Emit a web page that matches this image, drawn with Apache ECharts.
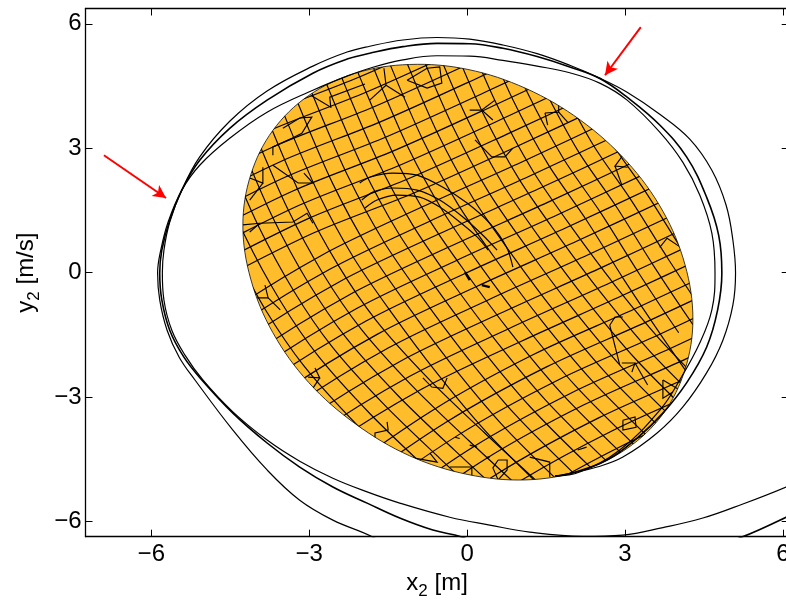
<!DOCTYPE html>
<html><head><meta charset="utf-8">
<style>html,body{margin:0;padding:0;background:#fff;overflow:hidden}#c{width:786px;height:601px}</style>
<script src="https://cdn.jsdelivr.net/npm/echarts@6/dist/echarts.min.js"></script>
</head><body><div id="c"></div>
<script>
const xTicks=[-6,-3,0,3,6];
const yTicks=[-6,-3,0,3,6];
const xLimits=[-7.25,6.11];
const yLimits=[-6.37,6.37];
const xName='{a|x}{s|2}{a| [m]}';
const yName='{a|y}{s|2}{a| [m/s]}';

const blob=[[4.29,-1.12],[4.14,-2.34],[3.72,-3.41],[3.04,-4.24],[2.15,-4.78],[1.12,-5.0],[.015,-4.87],[-1.09,-4.42],[-2.12,-3.65],[-3.01,-2.65],[-3.69,-1.45],[-4.11,-.16],[-4.26,1.14],[-4.11,2.36],[-3.69,3.43],[-3.01,4.27],[-2.12,4.81],[-1.09,5.02],[.015,4.90],[1.12,4.44],[2.15,3.68],[3.04,2.67],[3.72,1.48],[4.14,.19]];

const orbitA=[[7.08,-4.59],[6.06,-5.17],[5.24,-5.58],[4.48,-5.92],[3.72,-6.15],[2.96,-6.33],[2.20,-6.36],[1.19,-6.26],[.43,-6.09],[-.33,-5.90],[-1.28,-5.56],[-1.90,-5.29],[-2.55,-4.96],[-3.18,-4.55],[-3.80,-4.04],[-4.45,-3.36],[-5.02,-2.59],[-5.36,-1.99],[-5.61,-1.39],[-5.76,-.66],[-5.79,-.01],[-5.76,.54],[-5.65,1.22],[-5.42,1.99],[-5.08,2.79],[-4.51,3.65],[-3.80,4.38],[-2.93,4.98],[-2.28,5.32],[-1.85,5.46],[-1.22,5.61],[-.57,5.67],[.05,5.63],[.68,5.49],[1.33,5.28],[1.95,5.00],[2.52,4.69],[3.04,4.35],[3.66,3.82],[4.23,3.22],[4.65,2.47],[4.92,1.63],[5.05,.78],[5.10,-.01],[5.05,-.78],[4.86,-1.63],[4.55,-2.42],[4.10,-3.24],[3.61,-3.87],[2.96,-4.45],[2.47,-4.69],[2.01,-4.83],[1.67,-4.91]];
const orbitB=[[7.08,-5.25],[6.06,-5.90],[5.22,-6.38],[2.52,-7.66],[-.10,-6.38],[-.65,-6.21],[-1.28,-5.92],[-1.90,-5.56],[-2.55,-5.17],[-3.18,-4.69],[-3.80,-4.11],[-4.45,-3.39],[-5.04,-2.59],[-5.38,-2.04],[-5.65,-1.39],[-5.80,-.66],[-5.84,-.01],[-5.80,.54],[-5.66,1.22],[-5.42,1.99],[-5.08,2.71],[-4.51,3.48],[-3.80,4.16],[-2.93,4.81],[-2.28,5.15],[-1.85,5.29],[-1.22,5.45],[-.57,5.53],[.05,5.52],[.68,5.41],[1.33,5.21],[1.95,4.96],[2.52,4.68],[3.04,4.23],[3.66,3.56],[4.17,2.79],[4.55,1.82],[4.78,.90],[4.84,-.01],[4.76,-.90],[4.55,-1.80],[4.17,-2.66],[3.72,-3.39],[3.23,-3.99],[2.66,-4.52],[2.01,-4.83],[1.67,-4.91]];
const orbitC=[[-1.0,-7.0],[-1.79,-6.38],[-2.55,-5.97],[-3.18,-5.49],[-3.80,-4.76],[-4.45,-3.80],[-5.17,-2.59],[-5.47,-2.04],[-5.70,-1.39],[-5.84,-.66],[-5.88,-.01],[-5.82,.54],[-5.68,1.22],[-5.42,1.99],[-5.08,2.59],[-4.51,3.24],[-3.80,3.87],[-2.93,4.40],[-2.28,4.74],[-1.85,4.93],[-1.22,5.13],[-.57,5.23],[.05,5.22],[.68,5.12],[1.33,4.98],[1.95,4.82],[2.52,4.57],[3.04,4.16],[3.66,3.39],[4.10,2.66],[4.42,1.87],[4.65,.95],[4.71,-.01],[4.65,-.90],[4.42,-1.70],[4.04,-2.59],[3.66,-3.32],[2.90,-4.28],[2.14,-4.81],[1.67,-4.91]];

const meshSteep=[
[[-4.49,.64],[-3.82,-.92],[-3.10,-2.25],[-2.11,-3.65],[-1.05,-4.95]],
[[-4.84,2.69],[-4.22,.88],[-3.55,-.68],[-2.83,-2.01],[-1.84,-3.41],[-.78,-4.71]],
[[-4.58,2.92],[-3.96,1.11],[-3.29,-.45],[-2.57,-1.78],[-1.58,-3.18],[-.52,-4.48],[.57,-5.76]],
[[-4.31,3.13],[-3.69,1.32],[-3.02,-.24],[-2.30,-1.57],[-1.31,-2.97],[-.25,-4.27],[.84,-5.55]],
[[-4.03,3.35],[-3.41,1.54],[-2.74,-.02],[-2.02,-1.35],[-1.03,-2.75],[.03,-4.05],[1.12,-5.33]],
[[-3.74,3.55],[-3.12,1.74],[-2.45,.18],[-1.73,-1.15],[-.74,-2.55],[.32,-3.85],[1.41,-5.13]],
[[-3.75,4.72],[-3.46,3.76],[-2.84,1.95],[-2.17,.39],[-1.45,-.94],[-.595,-2.39],[.355,-3.83],[1.495,-5.28]],
[[-3.46,4.91],[-3.17,3.95],[-2.55,2.14],[-1.88,.58],[-1.16,-.75],[-.305,-2.20],[.645,-3.64],[1.785,-5.09]],
[[-3.18,5.11],[-2.89,4.15],[-2.27,2.34],[-1.60,.78],[-.88,-.55],[-.025,-2.0],[.925,-3.44],[2.065,-4.89]],
[[-2.89,5.29],[-2.60,4.33],[-1.98,2.52],[-1.31,.96],[-.59,-.37],[.265,-1.82],[1.215,-3.26],[2.355,-4.71]],
[[-2.61,5.47],[-2.32,4.51],[-1.70,2.70],[-1.03,1.14],[-.31,-.19],[.545,-1.64],[1.495,-3.08],[2.635,-4.53]],
[[-2.32,5.65],[-2.03,4.69],[-1.41,2.88],[-.74,1.32],[-.02,-.01],[.835,-1.46],[1.785,-2.90],[2.925,-4.35]],
[[-2.04,5.81],[-1.75,4.85],[-1.13,3.04],[-.46,1.48],[.26,.15],[1.115,-1.30],[2.065,-2.74],[3.205,-4.19]],
[[-1.46,5.01],[-.84,3.20],[-.17,1.64],[.55,.31],[1.405,-1.14],[2.355,-2.58],[3.495,-4.03]],
[[-1.18,5.17],[-.56,3.36],[.11,1.80],[.83,.47],[1.685,-.98],[2.635,-2.42],[3.775,-3.87]],
[[-.89,5.33],[-.27,3.52],[.40,1.96],[1.12,.63],[1.975,-.82],[2.925,-2.26],[4.065,-3.71]],
[[-.61,5.50],[.01,3.69],[.68,2.13],[1.40,.80],[2.255,-.65],[3.205,-2.09],[4.345,-3.54]],
[[-.32,5.66],[.30,3.85],[.97,2.29],[1.69,.96],[2.545,-.49],[3.495,-1.93],[4.635,-3.38]],
[[-.04,5.82],[.58,4.01],[1.25,2.45],[1.97,1.12],[2.825,-.33],[3.775,-1.77],[4.915,-3.22]],
[[.25,5.98],[.87,4.17],[1.54,2.61],[2.26,1.28],[2.98,-.17],[3.74,-1.61],[4.54,-3.06]],
[[.53,6.14],[1.15,4.33],[1.82,2.77],[2.54,1.44],[3.26,-.01],[4.02,-1.45]],
[[1.44,4.49],[2.11,2.93],[2.83,1.60],[3.55,.15],[4.31,-1.29]],
[[1.72,4.65],[2.39,3.09],[3.11,1.76],[3.83,.31],[4.59,-1.13]],
[[2.01,4.82],[2.68,3.26],[3.40,1.93],[4.12,.48],[4.88,-.96]]
];
const meshGentle=[
[[-5.86,2.54],[-3.96,3.75],[-2.06,4.71],[-.16,5.80]],
[[-5.72,2.18],[-3.82,3.39],[-1.92,4.35],[-.02,5.44],[1.88,6.57]],
[[-5.59,1.82],[-3.69,3.03],[-1.79,3.99],[.11,5.08],[2.01,6.21]],
[[-5.46,1.46],[-3.56,2.67],[-1.66,3.63],[.24,4.72],[2.14,5.85]],
[[-5.34,1.10],[-3.44,2.31],[-1.54,3.27],[.36,4.36],[2.26,5.49]],
[[-5.21,.76],[-3.31,1.97],[-1.41,2.93],[.49,4.02],[2.39,5.15]],
[[-5.08,.42],[-3.18,1.63],[-1.28,2.59],[.62,3.68],[2.52,4.81]],
[[-4.94,.08],[-3.04,1.29],[-1.14,2.25],[.76,3.34],[2.66,4.47]],
[[-4.81,-.25],[-2.91,.96],[-1.01,1.92],[.89,3.01],[2.79,4.14]],
[[-6.56,-2.88],[-4.66,-1.07],[-2.76,.42],[-.86,1.58],[1.04,2.67],[2.94,3.80]],
[[-6.41,-3.22],[-4.51,-1.41],[-2.61,.08],[-.71,1.24],[1.19,2.33],[3.09,3.46]],
[[-6.24,-3.53],[-4.34,-1.72],[-2.44,-.23],[-.54,.93],[1.36,2.02],[3.26,3.15]],
[[-6.06,-3.85],[-4.16,-2.04],[-2.26,-.55],[-.36,.61],[1.54,1.70],[3.44,2.83]],
[[-5.89,-4.16],[-3.99,-2.35],[-2.09,-.86],[-.19,.30],[1.71,1.39],[3.61,2.52]],
[[-5.72,-4.47],[-3.82,-2.66],[-1.92,-1.17],[-.02,-.01],[1.88,1.08],[3.78,2.21]],
[[-5.51,-4.79],[-3.61,-2.98],[-1.71,-1.49],[.19,-.33],[2.09,.76],[3.99,1.89]],
[[-5.30,-5.12],[-3.40,-3.31],[-1.50,-1.82],[.40,-.66],[2.30,.43],[4.20,1.56]],
[[-5.10,-5.46],[-3.20,-3.65],[-1.30,-2.16],[.60,-1.0],[2.50,.09],[4.40,1.22]],
[[-4.89,-5.80],[-2.99,-3.99],[-1.09,-2.50],[.81,-1.34],[2.71,-.25],[4.61,.88]],
[[-4.66,-6.11],[-2.76,-4.30],[-.86,-2.81],[1.04,-1.65],[2.94,-.56],[4.84,.57]],
[[-4.43,-6.91],[-2.53,-4.98],[-.63,-3.30],[1.27,-1.97],[3.17,-.885],[5.07,.25]],
[[-4.20,-7.22],[-2.30,-5.29],[-.40,-3.61],[1.50,-2.28],[3.40,-1.195],[5.30,-.06]],
[[-3.97,-7.53],[-2.07,-5.60],[-.17,-3.92],[1.73,-2.59],[3.63,-1.505],[5.53,-.37]],
[[-1.83,-5.92],[.07,-4.24],[1.97,-2.91],[3.87,-1.825],[5.77,-.69]],
[[-1.58,-6.20],[.32,-4.52],[2.22,-3.19],[4.12,-2.105],[6.02,-.97]],
[[-1.31,-6.52],[.59,-4.84],[2.49,-3.51],[4.39,-2.425],[6.29,-1.29]],
[[-1.05,-6.83],[.85,-5.15],[2.75,-3.82],[4.65,-2.735]],
[[-.78,-7.14],[1.12,-5.46],[3.02,-4.13],[4.92,-3.045]]
];
const meshPatches=[
[[-2.97,4.28],[-2.59,3.99],[-2.61,4.23],[-1.94,4.55]],
[[-1.58,4.93],[-1.54,4.52],[-1.85,4.16]],
[[-1.54,4.52],[-1.18,4.23]],
[[-1.14,4.64],[-.76,4.93],[-.52,4.96],[-.48,4.57],[-.76,4.45],[-1.14,4.64]],
[[-3.50,3.48],[-3.18,3.73],[-2.95,3.75],[-3.14,3.36],[-3.33,3.24],[-3.69,3.03],[-3.69,2.83]],
[[-3.69,2.59],[-3.21,2.16],[-2.93,2.16],[-3.10,2.40]],
[[-4.13,2.28],[-3.88,2.16],[-3.88,2.54]],
[[-3.88,2.16],[-4.13,1.75]],
[[-4.26,1.15],[-3.94,1.19],[-3.31,1.22],[-3.04,1.43],[-2.93,1.19]],
[[-3.94,1.19],[-4.13,.98]],
[[1.48,3.85],[1.74,3.87],[1.74,4.09]],
[[1.48,3.85],[1.53,3.56]],
[[1.74,3.87],[1.91,3.63]],
[[.05,3.92],[.28,3.92],[.49,3.68]],
[[.28,3.92],[.53,4.16]],
[[.15,3.20],[.47,2.79],[.72,2.79],[.87,3.00]],
[[2.96,2.83],[2.81,2.57],[3.05,2.54]],
[[2.81,2.57],[2.94,2.11]],
[[3.66,.61],[3.80,.83],[4.08,.59]],
[[2.96,-1.07],[2.81,-1.07],[2.71,-1.27],[2.90,-2.23]],
[[2.94,-2.18],[3.19,-2.18],[3.13,-2.40]],
[[3.19,-2.18],[3.43,-2.71]],
[[3.72,-2.59],[3.72,-3.03],[3.91,-2.88]],
[[3.72,-2.59],[4.04,-2.83]],
[[2.96,-3.56],[3.19,-3.48],[3.21,-3.73],[2.96,-3.80],[2.96,-3.56]],
[[1.19,-4.45],[1.57,-4.57],[1.57,-4.93]],
[[.59,-4.52],[.76,-4.52],[.76,-4.76],[.59,-5.0],[.49,-4.71],[.59,-4.52]],
[[-.33,-4.69],[.09,-4.69],[.09,-4.93]],
[[-2.89,-2.30],[-2.80,-2.54],[-3.02,-2.52]],
[[-2.80,-2.54],[-2.95,-2.83]],
[[-3.84,-.30],[-3.78,-.61],[-3.99,-.61]],
[[-3.78,-.61],[-3.55,-.90]],
[[-1.52,-3.60],[-1.50,-3.80],[-1.75,-3.87],[-1.75,-4.09]],
[[-.84,-2.54],[-.67,-2.76],[-.46,-2.79],[-.38,-2.54]],
[[-.71,-4.35],[-.57,-4.57],[-1.03,-4.47]],
[[2.10,-4.28],[2.27,-4.21]],
[[.38,-4.45],[.43,-4.45]],
[[.05,-4.16],[.19,-4.21]],
[[-.23,-3.97],[-.14,-4.00]]
];
const arcs=[
[[-2.04,-1.85,-1.41,-.95,-.46,0,.43,.75,.87],[2.16,2.30,2.40,2.35,2.06,1.68,1.19,.61,.13]],
[[-2.00,-1.79,-1.41,-.95,-.52,-.08,.30,.57],[1.75,1.94,2.04,1.99,1.75,1.34,.90,.54]],
[[-1.94,-1.71,-1.34,-.90,-.52,-.14,.19,.40],[1.56,1.75,1.87,1.82,1.58,1.22,.86,.54]]
];
const centerMarks=[
[[-.04,.05],[.01,-.18]],
[[.28,.43],[-.30,-.35]]
];
const arrowLeft=[[-6.90,2.83],[-5.72,1.80]];
const arrowRight=[[3.30,5.92],[2.62,4.76]];

const flatten=list=>{const out=[];list.forEach(([xs,ys],i)=>{if(i)out.push([null,null]);xs.forEach((x,j)=>out.push([x,ys[j]]));});return out;};
const sign=v=>v<0?'\u2212'+Math.abs(v):String(v);
const FONT='"Liberation Sans",Arial,sans-serif';
const rich={a:{fontSize:24,fontFamily:FONT,color:'#000'},s:{fontSize:17,fontFamily:FONT,color:'#000',padding:[16,0,0,0]}};
const axisLine={show:true,onZero:false,lineStyle:{color:'#000',width:1.3}};
const tick=v=>({show:true,inside:true,length:7,customValues:v,lineStyle:{color:'#000',width:1}});
const base=(lim)=>({type:'value',min:lim[0],max:lim[1],splitLine:{show:false},minorTick:{show:false},axisLine});
const plainLine=(data,opts)=>Object.assign({type:'line',data,showSymbol:false,symbol:'none',silent:true,connectNulls:false,animation:false,lineStyle:{color:'#000',width:1.1}},opts||{});

const chart=echarts.init(document.getElementById('c'),null,{renderer:'canvas'});
chart.setOption({
 animation:false,backgroundColor:'#fff',
 grid:{left:85.5,top:8.5,width:703.2,height:528.2,containLabel:false,outerBoundsMode:'none'},
 xAxis:[
  Object.assign(base(xLimits),{position:'bottom',name:xName,nameLocation:'center',nameGap:28,nameTextStyle:{rich},
   axisTick:tick(xTicks),axisLabel:{customValues:xTicks,formatter:sign,fontSize:24,fontFamily:FONT,color:'#000',margin:6,hideOverlap:false}}),
  Object.assign(base(xLimits),{position:'top',axisTick:tick(xTicks),axisLabel:{show:false}})
 ],
 yAxis:[
  Object.assign(base(yLimits),{position:'left',name:yName,nameLocation:'center',nameRotate:90,nameGap:38,nameTextStyle:{rich},
   axisTick:tick(yTicks),axisLabel:{customValues:yTicks,formatter:sign,fontSize:24,fontFamily:FONT,color:'#000',margin:4,hideOverlap:false}}),
  Object.assign(base(yLimits),{position:'right',axisTick:tick(yTicks),axisLabel:{show:false}})
 ],
 series:[
  {type:'custom',coordinateSystem:'cartesian2d',silent:true,data:blob,encode:{x:0,y:1},clip:true,animation:false,
   renderItem:(p,api)=>{
     if(p.dataIndex!==0)return null;
     const outline=blob.map(d=>api.coord(d));
     const curve=(line,smooth)=>({type:'polyline',shape:{points:line.map(d=>api.coord(d)),smooth},style:{fill:null,stroke:'#000',lineWidth:1.15}});
     return {type:'group',children:[
       {type:'polygon',shape:{points:outline,smooth:0.35},style:{fill:'#FFBC2B',stroke:'#222',lineWidth:0.9}},
       {type:'group',clipPath:{type:'polygon',shape:{points:outline,smooth:0.35}},
        children:[...meshSteep.map(l=>curve(l,0.3)),...meshGentle.map(l=>curve(l,0.3)),...meshPatches.map(l=>curve(l,0))]}
     ]};
   }},
  plainLine(flatten(arcs),{smooth:0.3,lineStyle:{color:'#000',width:1.2}}),
  plainLine(flatten(centerMarks),{lineStyle:{color:'#000',width:2.4}}),
  plainLine(orbitA,{smooth:0.4,lineStyle:{color:'#000',width:1.2}}),
  plainLine(orbitB,{smooth:0.4,lineStyle:{color:'#000',width:1.6}}),
  plainLine(orbitC,{smooth:0.4,lineStyle:{color:'#000',width:1.2}}),
  {type:'line',data:[],silent:true,animation:false,
   markLine:{silent:true,animation:false,symbol:['none','arrow'],symbolSize:[10,13],label:{show:false},
    lineStyle:{color:'#FF0000',width:2,type:'solid'},
    data:[arrowLeft,arrowRight].map(a=>a.map(c=>({coord:c})))}}
 ]
});
</script></body></html>
